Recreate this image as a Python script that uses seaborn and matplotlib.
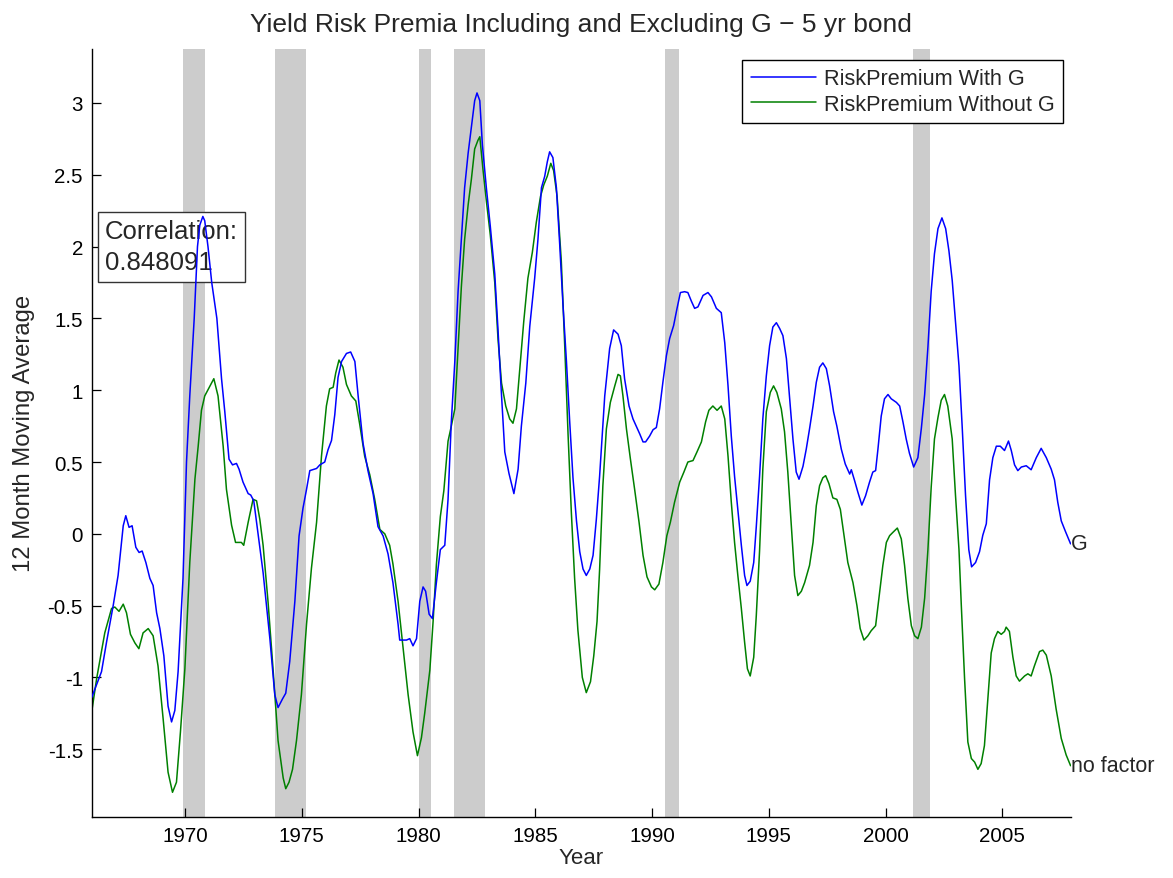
import matplotlib
matplotlib.use("Agg")
import matplotlib.pyplot as plt
import seaborn as sns
import numpy as np
import pandas as pd

# ---------------- data ----------------
years_with_g = [
    1966.00, 1966.42, 1966.64, 1966.92, 1967.13, 1967.35, 1967.46, 1967.60, 1967.73, 1967.89,
    1968.03, 1968.16, 1968.32, 1968.49, 1968.63, 1968.78, 1968.92, 1969.09, 1969.27, 1969.42,
    1969.56, 1969.70, 1969.91, 1970.06, 1970.20, 1970.39, 1970.53, 1970.63, 1970.76, 1970.84,
    1970.98, 1971.14, 1971.36, 1971.56, 1971.70, 1971.88, 1972.03, 1972.20, 1972.31, 1972.48,
    1972.70, 1972.81, 1972.94, 1973.06, 1973.20, 1973.34, 1973.63, 1973.84, 1973.98, 1974.17,
    1974.31, 1974.48, 1974.70, 1974.88, 1975.05, 1975.20, 1975.34, 1975.63, 1975.77, 1975.98,
    1976.12, 1976.27, 1976.41, 1976.55, 1976.70, 1976.91, 1977.09, 1977.27, 1977.41, 1977.62,
    1977.83, 1978.05, 1978.26, 1978.48, 1978.69, 1978.90, 1979.12, 1979.19, 1979.48, 1979.62,
    1979.76, 1979.91, 1980.05, 1980.19, 1980.30, 1980.45, 1980.59, 1980.76, 1980.93, 1981.12,
    1981.26, 1981.40, 1981.55, 1981.69, 1981.83, 1981.97, 1982.12, 1982.26, 1982.40, 1982.50,
    1982.62, 1982.73, 1982.90, 1983.07, 1983.26, 1983.40, 1983.52, 1983.69, 1983.87, 1984.08,
    1984.26, 1984.40, 1984.59, 1984.76, 1984.97, 1985.11, 1985.26, 1985.40, 1985.51, 1985.61,
    1985.75, 1985.90, 1986.04, 1986.18, 1986.33, 1986.47, 1986.61, 1986.76, 1986.90, 1987.04,
    1987.18, 1987.33, 1987.47, 1987.61, 1987.75, 1987.97, 1988.18, 1988.35, 1988.54, 1988.68,
    1988.82, 1989.01, 1989.18, 1989.32, 1989.47, 1989.61, 1989.72, 1989.89, 1990.04, 1990.18,
    1990.32, 1990.46, 1990.61, 1990.75, 1990.92, 1991.06, 1991.21, 1991.39, 1991.53, 1991.68,
    1991.82, 1991.96, 1992.18, 1992.39, 1992.54, 1992.75, 1992.96, 1993.11, 1993.25, 1993.39,
    1993.53, 1993.67, 1993.82, 1993.96, 1994.06, 1994.20, 1994.35, 1994.46, 1994.60, 1994.74,
    1994.89, 1995.03, 1995.17, 1995.32, 1995.46, 1995.60, 1995.75, 1995.89, 1996.03, 1996.17,
    1996.29, 1996.46, 1996.60, 1996.74, 1996.89, 1997.03, 1997.17, 1997.31, 1997.46, 1997.60,
    1997.77, 1997.91, 1998.10, 1998.27, 1998.46, 1998.53, 1998.67, 1998.81, 1998.98, 1999.14,
    1999.31, 1999.45, 1999.57, 1999.67, 1999.81, 1999.95, 2000.10, 2000.24, 2000.46, 2000.60,
    2000.74, 2000.88, 2001.02, 2001.20, 2001.38, 2001.53, 2001.67, 2001.81, 2001.95, 2002.09,
    2002.24, 2002.41, 2002.57, 2002.71, 2002.85, 2002.99, 2003.14, 2003.28, 2003.42, 2003.56,
    2003.68, 2003.85, 2004.02, 2004.16, 2004.31, 2004.45, 2004.59, 2004.74, 2004.91, 2005.09,
    2005.26, 2005.38, 2005.52, 2005.66, 2005.81, 2006.02, 2006.23, 2006.45, 2006.66, 2006.88,
    2007.09, 2007.23, 2007.37, 2007.52, 2007.70, 2007.83, 2007.92,
]
risk_premium_with_g = [
    -1.14, -0.96, -0.75, -0.50, -0.29, 0.056, 0.126, 0.045, 0.056, -0.094,
    -0.13, -0.12, -0.20, -0.31, -0.36, -0.55, -0.66, -0.85, -1.20, -1.31,
    -1.23, -0.96, -0.31, 0.50, 0.96, 1.50, 2.00, 2.15, 2.21, 2.18,
    2.00, 1.75, 1.50, 1.08, 0.85, 0.52, 0.48, 0.49, 0.45, 0.36,
    0.28, 0.27, 0.23, 0.08, -0.10, -0.27, -0.73, -1.12, -1.21, -1.15,
    -1.11, -0.89, -0.47, -0.015, 0.18, 0.31, 0.44, 0.455, 0.48, 0.50,
    0.585, 0.65, 0.83, 1.09, 1.20, 1.256, 1.266, 1.20, 0.96, 0.63,
    0.44, 0.28, 0.05, -0.015, -0.14, -0.34, -0.63, -0.74, -0.74, -0.73,
    -0.78, -0.73, -0.47, -0.37, -0.40, -0.56, -0.59, -0.34, -0.11, -0.08,
    0.24, 0.78, 1.20, 1.69, 2.05, 2.41, 2.65, 2.835, 3.016, 3.07,
    3.016, 2.71, 2.41, 2.14, 1.81, 1.42, 1.05, 0.57, 0.42, 0.28,
    0.45, 0.75, 1.05, 1.445, 1.78, 2.05, 2.41, 2.49, 2.59, 2.66,
    2.62, 2.41, 2.02, 1.60, 1.20, 0.78, 0.39, 0.09, -0.125, -0.245,
    -0.29, -0.245, -0.15, 0.10, 0.40, 0.96, 1.29, 1.42, 1.39, 1.31,
    1.08, 0.89, 0.80, 0.75, 0.695, 0.64, 0.64, 0.68, 0.725, 0.74,
    0.87, 1.055, 1.24, 1.36, 1.45, 1.565, 1.68, 1.686, 1.68, 1.62,
    1.57, 1.58, 1.66, 1.68, 1.65, 1.57, 1.54, 1.33, 1.03, 0.68,
    0.40, 0.17, -0.08, -0.29, -0.36, -0.33, -0.20, 0.05, 0.40, 0.80,
    1.10, 1.31, 1.44, 1.47, 1.43, 1.38, 1.22, 0.94, 0.66, 0.43,
    0.38, 0.47, 0.59, 0.73, 0.89, 1.055, 1.16, 1.19, 1.15, 1.03,
    0.85, 0.75, 0.59, 0.486, 0.416, 0.446, 0.37, 0.29, 0.20, 0.265,
    0.36, 0.43, 0.44, 0.59, 0.82, 0.94, 0.97, 0.94, 0.915, 0.89,
    0.78, 0.66, 0.56, 0.465, 0.53, 0.737, 0.97, 1.30, 1.69, 1.95,
    2.125, 2.20, 2.125, 1.97, 1.765, 1.48, 1.17, 0.737, 0.27, -0.11,
    -0.23, -0.20, -0.125, -0.01, 0.07, 0.376, 0.53, 0.61, 0.61, 0.58,
    0.646, 0.58, 0.48, 0.44, 0.465, 0.474, 0.446, 0.53, 0.595, 0.53,
    0.45, 0.376, 0.22, 0.09, 0.016, -0.035, -0.07,
]

years_without_g = [
    1966.00, 1966.21, 1966.56, 1966.85, 1966.99, 1967.17, 1967.35, 1967.49, 1967.66, 1967.85,
    1968.02, 1968.20, 1968.42, 1968.63, 1968.84, 1969.06, 1969.27, 1969.46, 1969.63, 1969.80,
    1969.99, 1970.20, 1970.42, 1970.56, 1970.70, 1970.84, 1971.13, 1971.23, 1971.41, 1971.63,
    1971.77, 1971.99, 1972.16, 1972.41, 1972.51, 1972.70, 1972.91, 1973.06, 1973.20, 1973.34,
    1973.55, 1973.77, 1973.98, 1974.20, 1974.31, 1974.45, 1974.60, 1974.77, 1974.98, 1975.20,
    1975.41, 1975.63, 1975.84, 1976.05, 1976.19, 1976.34, 1976.45, 1976.59, 1976.76, 1976.91,
    1977.12, 1977.31, 1977.48, 1977.69, 1977.91, 1978.12, 1978.34, 1978.55, 1978.76, 1978.90,
    1979.12, 1979.33, 1979.55, 1979.76, 1979.95, 1980.12, 1980.26, 1980.48, 1980.62, 1980.76,
    1980.93, 1981.08, 1981.26, 1981.40, 1981.55, 1981.69, 1981.83, 1981.97, 1982.12, 1982.26,
    1982.40, 1982.54, 1982.62, 1982.76, 1982.90, 1983.07, 1983.26, 1983.40, 1983.55, 1983.73,
    1983.90, 1984.04, 1984.19, 1984.33, 1984.50, 1984.68, 1984.87, 1985.04, 1985.22, 1985.36,
    1985.51, 1985.66, 1985.78, 1985.93, 1986.11, 1986.26, 1986.40, 1986.54, 1986.68, 1986.82,
    1987.01, 1987.18, 1987.36, 1987.50, 1987.64, 1987.75, 1987.89, 1988.04, 1988.21, 1988.40,
    1988.54, 1988.64, 1988.75, 1988.90, 1989.07, 1989.25, 1989.44, 1989.61, 1989.78, 1989.97,
    1990.11, 1990.29, 1990.46, 1990.63, 1990.78, 1990.96, 1991.18, 1991.36, 1991.53, 1991.75,
    1991.92, 1992.11, 1992.29, 1992.43, 1992.60, 1992.78, 1992.96, 1993.11, 1993.25, 1993.39,
    1993.53, 1993.67, 1993.82, 1993.96, 1994.08, 1994.20, 1994.35, 1994.46, 1994.60, 1994.74,
    1994.89, 1995.06, 1995.20, 1995.34, 1995.53, 1995.67, 1995.81, 1995.96, 1996.10, 1996.24,
    1996.39, 1996.53, 1996.74, 1996.89, 1997.03, 1997.17, 1997.31, 1997.43, 1997.57, 1997.74,
    1997.91, 1998.06, 1998.20, 1998.38, 1998.60, 1998.77, 1998.91, 1999.07, 1999.24, 1999.38,
    1999.57, 1999.71, 1999.88, 2000.03, 2000.17, 2000.31, 2000.50, 2000.67, 2000.81, 2000.95,
    2001.10, 2001.24, 2001.38, 2001.53, 2001.67, 2001.81, 2001.95, 2002.09, 2002.24, 2002.38,
    2002.52, 2002.66, 2002.85, 2002.99, 2003.14, 2003.24, 2003.38, 2003.52, 2003.67, 2003.81,
    2003.95, 2004.09, 2004.23, 2004.38, 2004.52, 2004.66, 2004.80, 2004.95, 2005.09, 2005.16,
    2005.30, 2005.45, 2005.59, 2005.73, 2005.95, 2006.09, 2006.23, 2006.37, 2006.59, 2006.73,
    2006.88, 2007.09, 2007.30, 2007.52, 2007.73, 2007.92,
]
risk_premium_without_g = [
    -1.24, -1.01, -0.69, -0.52, -0.51, -0.54, -0.49, -0.55, -0.70, -0.76,
    -0.80, -0.69, -0.66, -0.71, -0.92, -1.29, -1.66, -1.80, -1.73, -1.38,
    -0.94, -0.20, 0.38, 0.61, 0.86, 0.96, 1.05, 1.08, 0.96, 0.61,
    0.31, 0.06, -0.06, -0.06, -0.08, 0.08, 0.24, 0.23, 0.10, -0.08,
    -0.47, -0.95, -1.44, -1.70, -1.775, -1.73, -1.64, -1.44, -1.12, -0.63,
    -0.24, 0.08, 0.54, 0.89, 1.01, 1.02, 1.12, 1.21, 1.16, 1.04,
    0.96, 0.925, 0.76, 0.54, 0.41, 0.24, 0.03, 0.0, -0.08, -0.21,
    -0.47, -0.79, -1.12, -1.38, -1.545, -1.42, -1.25, -0.95, -0.61, -0.215,
    0.12, 0.30, 0.645, 0.75, 0.87, 1.295, 1.72, 2.05, 2.29, 2.47,
    2.68, 2.74, 2.765, 2.53, 2.32, 2.08, 1.75, 1.355, 1.05, 0.89,
    0.80, 0.77, 0.87, 1.14, 1.475, 1.78, 1.96, 2.17, 2.35, 2.43,
    2.49, 2.58, 2.53, 2.35, 1.90, 1.295, 0.69, 0.15, -0.31, -0.67,
    -1.00, -1.106, -1.03, -0.85, -0.61, -0.25, 0.335, 0.73, 0.915, 1.03,
    1.11, 1.10, 0.96, 0.73, 0.52, 0.31, 0.08, -0.15, -0.30, -0.37,
    -0.39, -0.35, -0.20, -0.013, 0.08, 0.22, 0.36, 0.43, 0.50, 0.51,
    0.57, 0.64, 0.78, 0.86, 0.89, 0.86, 0.89, 0.80, 0.54, 0.22,
    -0.06, -0.29, -0.52, -0.755, -0.94, -0.99, -0.86, -0.57, -0.12, 0.45,
    0.85, 0.985, 1.03, 0.985, 0.87, 0.71, 0.43, 0.056, -0.29, -0.43,
    -0.40, -0.34, -0.22, -0.06, 0.196, 0.335, 0.39, 0.405, 0.35, 0.25,
    0.24, 0.17, 0.01, -0.20, -0.34, -0.50, -0.66, -0.74, -0.71, -0.675,
    -0.64, -0.45, -0.22, -0.06, -0.013, 0.01, 0.04, -0.036, -0.22, -0.45,
    -0.64, -0.71, -0.73, -0.65, -0.447, -0.11, 0.325, 0.66, 0.81, 0.93,
    0.97, 0.89, 0.66, 0.27, -0.11, -0.50, -1.01, -1.45, -1.565, -1.59,
    -1.64, -1.60, -1.475, -1.14, -0.83, -0.73, -0.68, -0.70, -0.68, -0.65,
    -0.68, -0.86, -0.99, -1.026, -0.99, -0.975, -0.99, -0.92, -0.82, -0.81,
    -0.845, -0.99, -1.22, -1.425, -1.54, -1.615,
]

recession_start = [1969.92, 1973.84, 1980.00, 1981.53, 1990.53, 2001.19]
recession_end = [1970.84, 1975.17, 1980.52, 1982.84, 1991.17, 2001.88]

series_labels = ["RiskPremium With G", "RiskPremium Without G"]
end_labels = ["G", "no factor"]
x_ticks = [1970, 1975, 1980, 1985, 1990, 1995, 2000, 2005]
y_ticks = [-1.5, -1.0, -0.5, 0.0, 0.5, 1.0, 1.5, 2.0, 2.5, 3.0]
correlation_text = "Correlation:\n0.848091"
title_text = "Yield Risk Premia Including and Excluding G \u2212 5 yr bond"

# ---------------- styling ----------------
sns.set_style("white")
plt.rcParams["font.family"] = ["Liberation Sans", "DejaVu Sans"]
plt.rcParams["axes.unicode_minus"] = False

fig = plt.figure(figsize=(11.73, 8.79), dpi=100)
ax = fig.add_axes([91.7 / 1173, 1 - 817.7 / 879, (1070.6 - 91.7) / 1173, (817.7 - 50) / 879])

for s, e in zip(recession_start, recession_end):
    ax.axvspan(s, e, color="#cccccc", lw=0, zorder=0)

df_g = pd.DataFrame({"year": years_with_g, "rp": risk_premium_with_g})
df_ng = pd.DataFrame({"year": years_without_g, "rp": risk_premium_without_g})

sns.lineplot(data=df_g, x="year", y="rp", ax=ax, color=(0, 0, 1), lw=1.1,
             label=series_labels[0], estimator=None, sort=False, zorder=3)
sns.lineplot(data=df_ng, x="year", y="rp", ax=ax, color=(0, 0.5, 0), lw=1.1,
             label=series_labels[1], estimator=None, sort=False, zorder=2)

ax.set_xlim(1966.0, 2007.92)
ax.set_ylim(-1.97, 3.376)
ax.set_xticks(x_ticks)
ax.set_yticks(y_ticks)
ax.yaxis.set_major_formatter(matplotlib.ticker.FormatStrFormatter("%g"))

for side in ["top", "right"]:
    ax.spines[side].set_visible(False)
for side in ["left", "bottom"]:
    ax.spines[side].set_color("black")
    ax.spines[side].set_linewidth(1.0)

ax.tick_params(axis="both", which="major", direction="in", length=6.5, width=0.9,
               colors="black", labelsize=14.8, bottom=True, left=True, top=False, right=False)
ax.tick_params(axis="y", pad=6.3)
ax.tick_params(axis="x", pad=7)

ax.set_xlabel("Year", fontsize=16, labelpad=1)
ax.set_ylabel("12 Month Moving Average", fontsize=17.2, labelpad=9)
ax.set_title(title_text, fontsize=19, pad=13)

leg = ax.legend(loc="upper right", bbox_to_anchor=(1063 / 1173, 1 - 60.7 / 879),
                bbox_transform=fig.transFigure, borderaxespad=0, fontsize=15.6,
                frameon=True, fancybox=False, edgecolor="black", framealpha=1,
                handlelength=3.0, handletextpad=0.35, borderpad=0.4, labelspacing=0.2)
leg.get_frame().set_linewidth(1.0)

ax.text(1966.56, 2.0, correlation_text, fontsize=18.5, ha="left", va="center",
        linespacing=1.4,
        bbox=dict(boxstyle="square,pad=0.28", facecolor="white", edgecolor="#333333", lw=1.0),
        zorder=1.5)

ax.text(years_with_g[-1], risk_premium_with_g[-1], end_labels[0], fontsize=15.5,
        ha="left", va="center", clip_on=False)
ax.text(years_without_g[-1], risk_premium_without_g[-1], end_labels[1], fontsize=15.5,
        ha="left", va="center", clip_on=False)

fig.savefig("out.png", dpi=100, facecolor="white")
